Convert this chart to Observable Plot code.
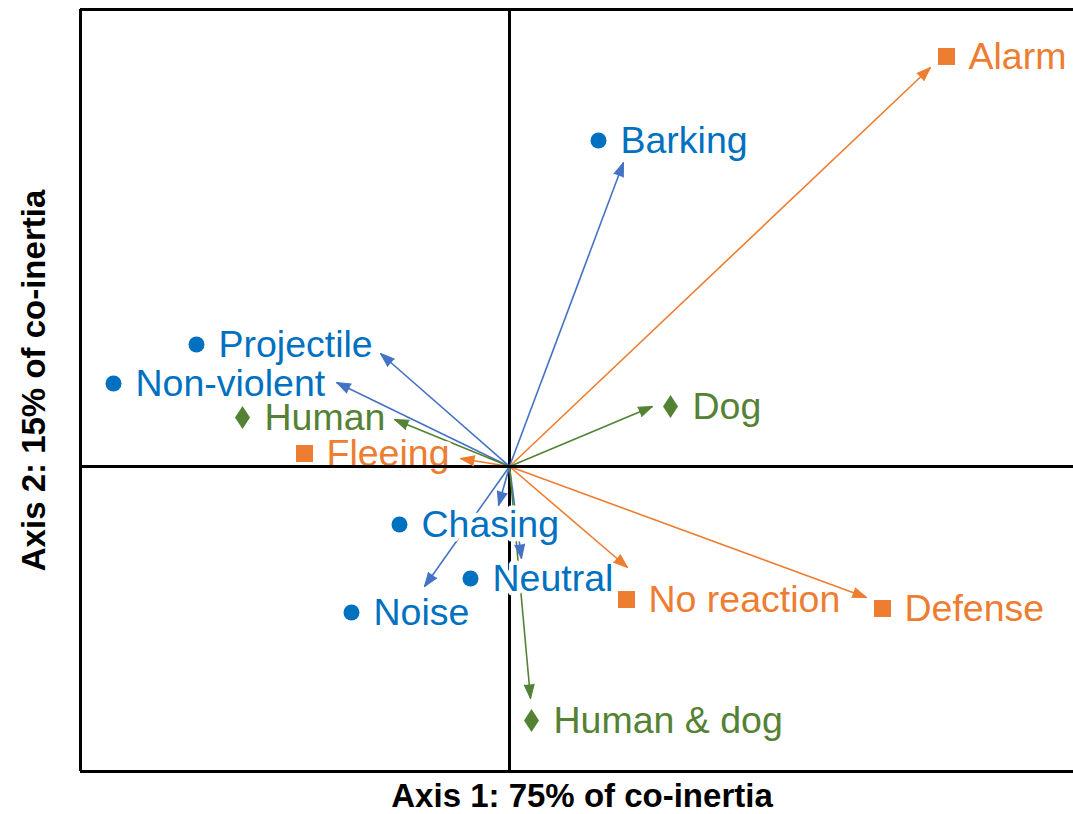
<!DOCTYPE html>
<html><head><meta charset="utf-8">
<script src="https://cdn.jsdelivr.net/npm/d3@7"></script>
<script src="https://cdn.jsdelivr.net/npm/@observablehq/plot@0.6"></script>
<style>html,body{margin:0;padding:0;background:#fff} svg{display:block}</style>
</head><body><div id="chart"></div>
<script>
// Co-inertia plane (units: arbitrary co-inertia scores)
const names   = ["Barking","Alarm","Projectile","Non-violent","Human","Fleeing","Dog","Chasing","Noise","Neutral","No reaction","Defense","Human & dog"];
const groups  = ["Stimulus","Reaction","Stimulus","Stimulus","Target","Reaction","Target","Stimulus","Stimulus","Stimulus","Reaction","Reaction","Target"];
// arrow tips (variable loadings)
const arrowX  = [1.14, 4.21, -1.29, -1.73, -1.15, -0.49, 1.43, -0.11, -0.85, 0.12, 1.18, 3.57, 0.21];
const arrowY  = [3.04, 3.99,  1.13,  0.84,  0.47,  0.08, 0.60, -0.39, -1.20, -0.92, -1.01, -1.31, -2.32];
// label anchor points (symbol positions)
const labelX  = [0.89, 4.37, -3.13, -3.96, -2.67, -2.05, 1.61, -1.10, -1.58, -0.39, 1.17, 3.73, 0.22];
const labelY  = [3.26, 4.10,  1.22,  0.83,  0.49,  0.13, 0.60, -0.58, -1.46, -1.12, -1.33, -1.42, -2.54];
const xDomain = [-4.29, 5.64];
const yDomain = [-3.05, 4.57];
const xTitle = "Axis 1: 75% of co-inertia";
const yTitle = "Axis 2: 15% of co-inertia";

const textColor  = {Stimulus: "#0070C0", Reaction: "#ED7D31", Target: "#548235"};
const arrowColor = {Stimulus: "#4472C4", Reaction: "#ED7D31", Target: "#548235"};

const data = names.map((n, i) => ({name: n, group: groups[i], ax: arrowX[i], ay: arrowY[i], lx: labelX[i], ly: labelY[i]}));

const tallDiamond = {
  draw(context, size) {
    const r = Math.sqrt(size / Math.PI);
    context.moveTo(0, -1.15 * r);
    context.lineTo(0.75 * r, 0);
    context.lineTo(0, 1.15 * r);
    context.lineTo(-0.75 * r, 0);
    context.closePath();
  }
};

const font = "Liberation Sans, Arial, Helvetica, sans-serif";

const chart = Plot.plot({
  width: 1073,
  height: 814,
  marginLeft: 80,
  marginRight: 0,
  marginTop: 9,
  marginBottom: 43,
  x: {domain: xDomain, axis: null},
  y: {domain: yDomain, axis: null},
  color: {type: "identity"},
  style: {fontFamily: font, overflow: "visible", background: "#fff"},
  marks: [
    Plot.ruleX([0], {stroke: "#000", strokeWidth: 3}),
    Plot.link(data, {x1: () => 0, y1: () => 0, x2: "ax", y2: "ay", stroke: d => arrowColor[d.group], strokeWidth: 1.6}),
    Plot.text(data, {x: "lx", y: "ly", text: "name", dx: 22, textAnchor: "start", lineAnchor: "middle",
      fill: d => textColor[d.group], stroke: "white", strokeWidth: 9, fontSize: 37.5, fontFamily: font}),
    Plot.ruleY([0], {stroke: "#000", strokeWidth: 3}),
    Plot.ruleX([xDomain[0]], {stroke: "#000", strokeWidth: 3}),
    Plot.ruleY(yDomain, {stroke: "#000", strokeWidth: 3}),
    Plot.vector(data, {x: "ax", y: "ay", length: 14, r: 5, shape: "spike", anchor: "end",
      rotate: d => Math.atan2(d.ax, d.ay) * 180 / Math.PI,
      fill: d => arrowColor[d.group], stroke: d => arrowColor[d.group], strokeWidth: 1}),
    Plot.dot(data.filter(d => d.group === "Stimulus"), {x: "lx", y: "ly", symbol: "circle", r: 8, fill: "#0070C0", stroke: "none"}),
    Plot.dot(data.filter(d => d.group === "Reaction"), {x: "lx", y: "ly", symbol: "square", r: 9.6, fill: "#ED7D31", stroke: "none"}),
    Plot.dot(data.filter(d => d.group === "Target"), {x: "lx", y: "ly", symbol: tallDiamond, r: 10, fill: "#548235", stroke: "none"}),
    Plot.text([xTitle], {text: d => d, frameAnchor: "bottom", textAnchor: "middle", dy: 25, dx: 5, lineAnchor: "middle",
      fontWeight: "bold", fontSize: 33, fill: "#000", fontFamily: font}),
    Plot.text([yTitle], {text: d => d, frameAnchor: "left", textAnchor: "middle", dx: -46, dy: -10, rotate: -90, lineAnchor: "middle",
      fontWeight: "bold", fontSize: 33, fill: "#000", fontFamily: font})
  ]
});
document.getElementById("chart").appendChild(chart);
</script>
</body></html>
